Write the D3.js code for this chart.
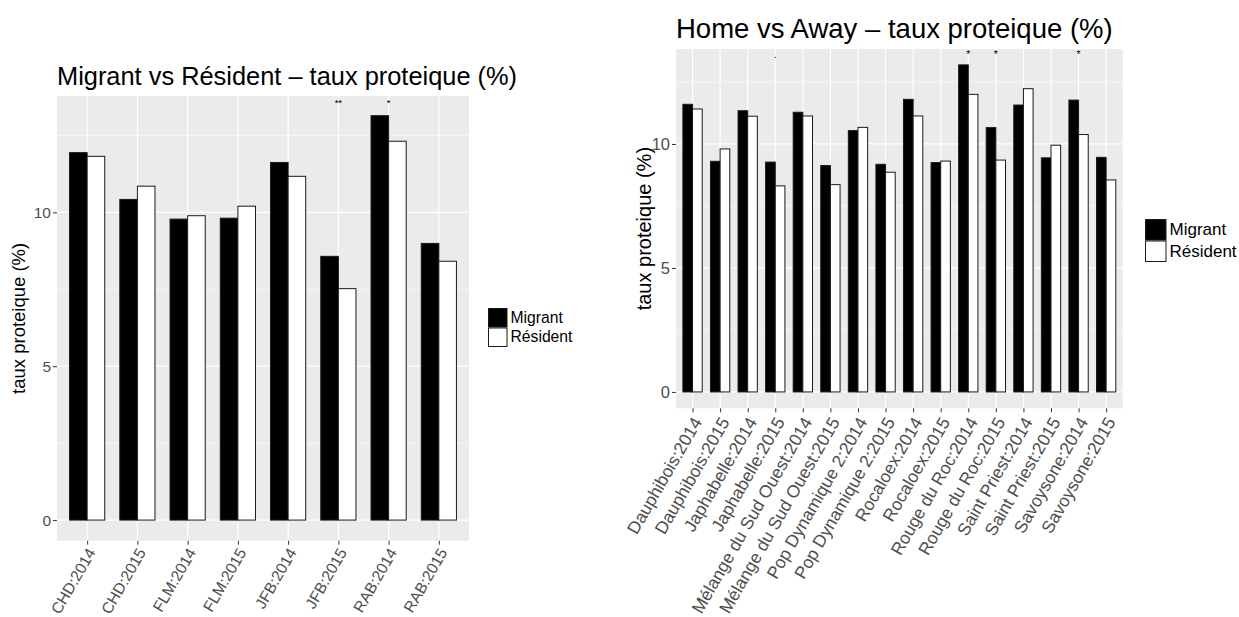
<!DOCTYPE html>
<html>
<head>
<meta charset="utf-8">
<script src="https://cdn.jsdelivr.net/npm/d3@7"></script>
<style>
  html, body { margin: 0; padding: 0; background: #ffffff; }
  svg { display: block; }
  text { font-family: "Liberation Sans", Arial, Helvetica, sans-serif; }
</style>
</head>
<body>
<svg id="chart" width="1239" height="617"></svg>
<script>
// ---------- data ----------
const groups = ["Migrant", "Résident"];
const yTicks = [0, 5, 10];
const yMinor = [2.5, 7.5, 12.5];

const leftTitle = "Migrant vs Résident \u2013 taux proteique (%)";
const leftCategories = ["CHD:2014", "CHD:2015", "FLM:2014", "FLM:2015", "JFB:2014", "JFB:2015", "RAB:2014", "RAB:2015"];
const leftMigrant  = [11.94, 10.42, 9.78, 9.81, 11.62, 8.57, 13.14, 8.99];
const leftResident = [11.82, 10.85, 9.89, 10.20, 11.17, 7.52, 12.31, 8.41];
const leftSignif   = ["", "", "", "", "", "**", "*", ""];

const rightTitle = "Home vs Away \u2013 taux proteique (%)";
const rightCategories = ["Dauphibois:2014", "Dauphibois:2015", "Japhabelle:2014", "Japhabelle:2015",
  "Mélange du Sud Ouest:2014", "Mélange du Sud Ouest:2015", "Pop Dynamique 2:2014", "Pop Dynamique 2:2015",
  "Rocaloex:2014", "Rocaloex:2015", "Rouge du Roc:2014", "Rouge du Roc:2015",
  "Saint Priest:2014", "Saint Priest:2015", "Savoysone:2014", "Savoysone:2015"];
const rightMigrant  = [11.60, 9.30, 11.34, 9.27, 11.28, 9.13, 10.54, 9.18, 11.80, 9.25, 13.19, 10.66, 11.57, 9.44, 11.77, 9.46];
const rightResident = [11.41, 9.80, 11.12, 8.31, 11.13, 8.36, 10.67, 8.86, 11.13, 9.31, 12.00, 9.35, 12.23, 9.95, 10.38, 8.55];
const rightSignif   = ["", "", "", ".", "", "", "", "", "", "", "*", "*", "", "", "*", ""];

const yLabel = "taux proteique (%)";
const signifLevel = 13.45;

// ---------- drawing ----------
const svg = d3.select("#chart");
svg.append("rect").attr("width", 1239).attr("height", 617).attr("fill", "#ffffff");

function drawPanel(cfg) {
  const g = svg.append("g");
  const { left, right, top, bottom } = cfg.panel;
  const x = d3.scalePoint().domain(cfg.categories).range([left, right]).padding(0.6);
  const step = x.step();
  const sub = d3.scaleBand().domain(groups).range([-0.35 * step, 0.35 * step]).padding(0);
  const y = d3.scaleLinear().domain(cfg.yDomain).range([bottom, top]);

  // panel background
  g.append("rect").attr("x", left).attr("y", top).attr("width", right - left).attr("height", bottom - top)
    .attr("fill", "#EBEBEB");
  // grid
  g.selectAll(".ymin").data(yMinor).join("line")
    .attr("x1", left).attr("x2", right).attr("y1", d => y(d)).attr("y2", d => y(d))
    .attr("stroke", "#ffffff").attr("stroke-width", 0.6);
  g.selectAll(".ymaj").data(yTicks).join("line")
    .attr("x1", left).attr("x2", right).attr("y1", d => y(d)).attr("y2", d => y(d))
    .attr("stroke", "#ffffff").attr("stroke-width", 1.2);
  g.selectAll(".xmaj").data(cfg.categories).join("line")
    .attr("x1", d => x(d)).attr("x2", d => x(d)).attr("y1", top).attr("y2", bottom)
    .attr("stroke", "#ffffff").attr("stroke-width", 1.2);

  // bars
  const rows = [];
  cfg.categories.forEach((c, i) => {
    rows.push({ c, grp: "Migrant", v: cfg.migrant[i] });
    rows.push({ c, grp: "Résident", v: cfg.resident[i] });
  });
  g.selectAll(".bar").data(rows).join("rect")
    .attr("x", d => x(d.c) + sub(d.grp))
    .attr("width", sub.bandwidth())
    .attr("y", d => y(d.v))
    .attr("height", d => y(0) - y(d.v))
    .attr("fill", d => d.grp === "Migrant" ? "#000000" : "#ffffff")
    .attr("stroke", "#1a1a1a").attr("stroke-width", 1);

  // significance labels
  g.selectAll(".sig").data(cfg.categories.map((c, i) => ({ c, s: cfg.signif[i] })).filter(d => d.s))
    .join("text")
    .attr("x", d => x(d.c)).attr("y", y(signifLevel))
    .attr("text-anchor", "middle")
    .attr("font-size", cfg.sigSize).attr("fill", "#000")
    .text(d => d.s);

  // y axis
  const ya = g.append("g").attr("transform", `translate(${left},0)`)
    .call(d3.axisLeft(y).tickValues(yTicks).tickSize(cfg.tick).tickPadding(2).tickFormat(d3.format("d")));
  ya.select(".domain").remove();
  ya.selectAll("line").attr("stroke", "#333333").attr("stroke-width", 1);
  ya.selectAll("text").attr("fill", "#4D4D4D").attr("font-size", cfg.tickSize).attr("dy", "0.35em");

  // x axis
  const xa = g.append("g").attr("transform", `translate(0,${bottom})`)
    .call(d3.axisBottom(x).tickSize(cfg.tick));
  xa.select(".domain").remove();
  xa.selectAll("line").attr("stroke", "#333333").attr("stroke-width", 1);
  xa.selectAll("text")
    .attr("fill", "#4D4D4D").attr("font-size", cfg.xLabelSize)
    .attr("x", 0).attr("y", 0).attr("dy", 0)
    .attr("text-anchor", "end")
    .attr("transform", `translate(${cfg.labelOff[0]},${cfg.labelOff[1]}) rotate(-60)`);

  // y title
  g.append("text")
    .attr("transform", `translate(${cfg.yTitleX},${(top + bottom) / 2}) rotate(-90)`)
    .attr("text-anchor", "middle").attr("font-size", cfg.axisTitleSize).attr("fill", "#000")
    .text(yLabel);

  // title
  g.append("text").attr("x", left).attr("y", cfg.titleY)
    .attr("font-size", cfg.titleSize).attr("fill", "#000").text(cfg.title);

  // legend
  const lg = g.append("g").attr("transform", `translate(${cfg.legend[0]},${cfg.legend[1]})`);
  const k = cfg.keySize;
  groups.forEach((grp, i) => {
    lg.append("rect").attr("x", 0.5).attr("y", i * (k + 1) + 0.5).attr("width", k).attr("height", k)
      .attr("fill", grp === "Migrant" ? "#000" : "#fff").attr("stroke", "#1a1a1a").attr("stroke-width", 1);
    lg.append("text").attr("x", k + 4).attr("y", i * (k + 1) + k / 2).attr("dy", "0.36em")
      .attr("font-size", cfg.legendSize).attr("fill", "#000").text(grp);
  });
}

drawPanel({
  title: leftTitle, categories: leftCategories, migrant: leftMigrant, resident: leftResident, signif: leftSignif,
  panel: { left: 57, right: 469, top: 96, bottom: 540.7 }, yDomain: [-0.67, 13.78],
  tick: 4, tickSize: 15.5, xLabelSize: 15.6, axisTitleSize: 18.5, titleSize: 25.4, legendSize: 15.7, sigSize: 9.5,
  labelOff: [8.5, 11.5], yTitleX: 25, titleY: 85, legend: [488, 308], keySize: 18.5
});

drawPanel({
  title: rightTitle, categories: rightCategories, migrant: rightMigrant, resident: rightResident, signif: rightSignif,
  panel: { left: 676, right: 1122.7, top: 49, bottom: 408.3 }, yDomain: [-0.66, 13.83],
  tick: 4, tickSize: 16.5, xLabelSize: 17.5, axisTitleSize: 20, titleSize: 27.5, legendSize: 17, sigSize: 10.5,
  labelOff: [9.5, 13.5], yTitleX: 651, titleY: 38, legend: [1145, 219], keySize: 20.5
});
</script>
</body>
</html>
